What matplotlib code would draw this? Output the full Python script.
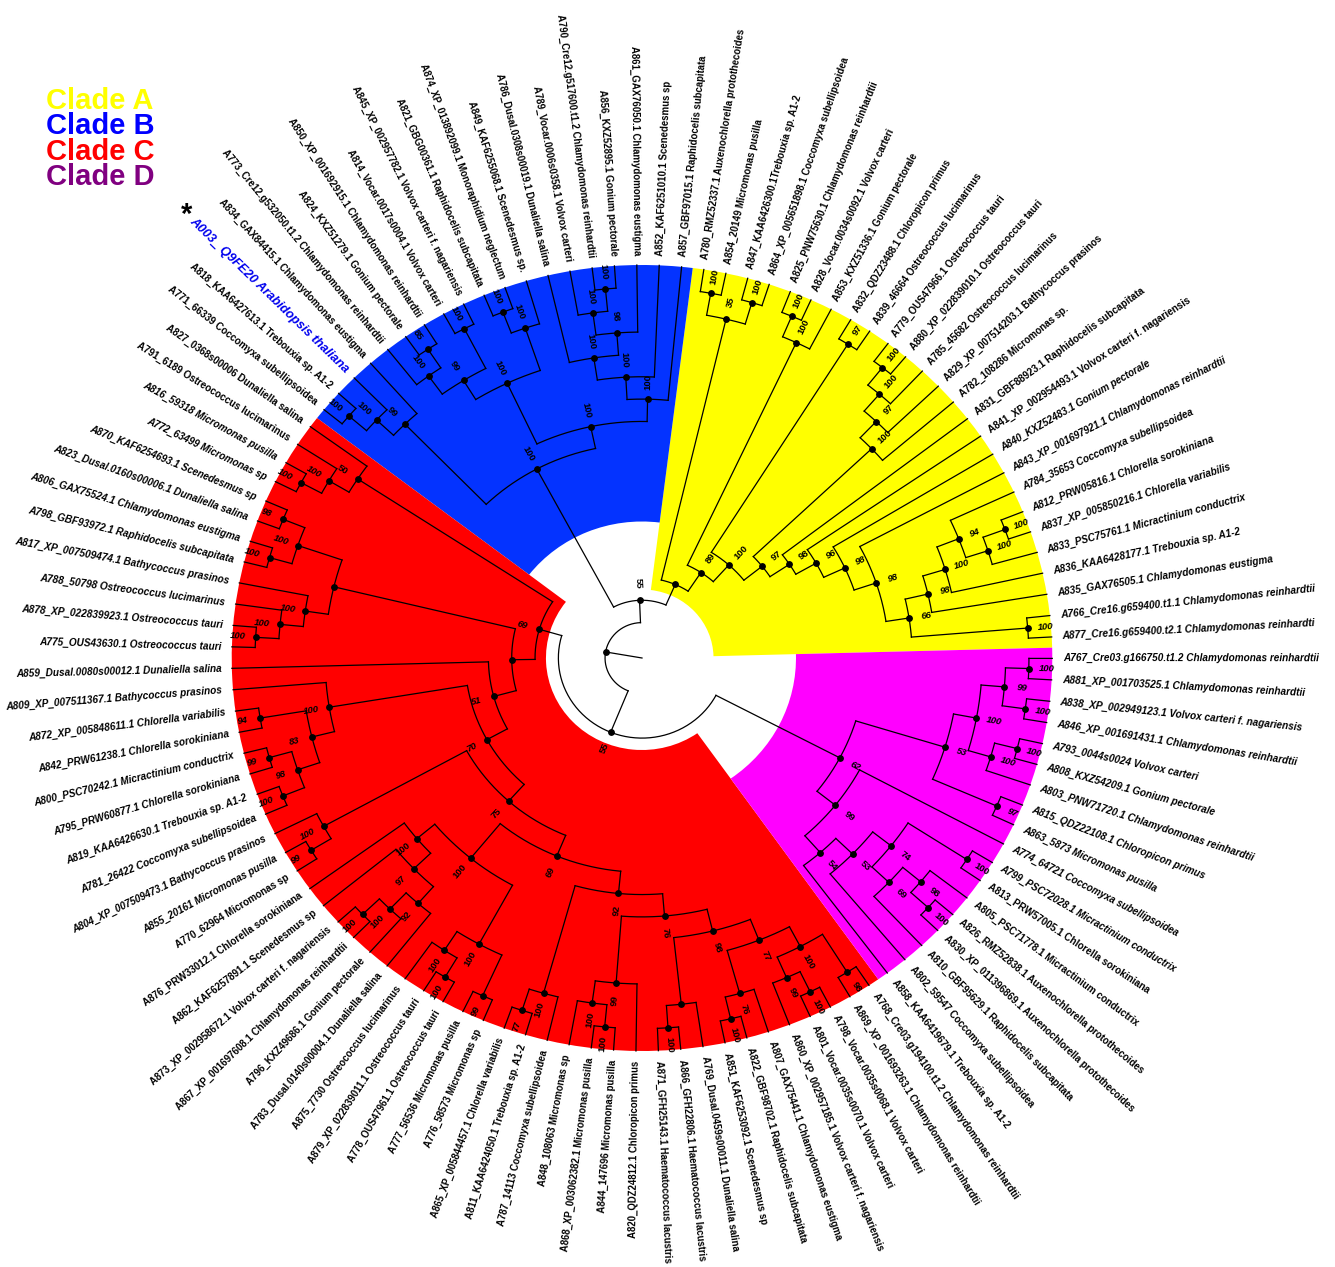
import numpy as np
import matplotlib
matplotlib.use("Agg")
import matplotlib.pyplot as plt

plt.rcParams['font.family'] = ['Liberation Sans', 'DejaVu Sans']

# ------------------------------------------------------------------ data
# leaf labels in drawing order (counter-clockwise, starting at Clade A)
leaf_labels_A = [
    "A877_Cre16.g659400.t2.1 Chlamydomonas reinhardti",
    "A766_Cre16.g659400.t1.1 Chlamydomonas reinhardtii",
    "A835_GAX76505.1 Chlamydomonas eustigma",
    "A836_KAA6428177.1 Trebouxia sp. A1-2",
    "A833_PSC75761.1 Micractinium conductrix",
    "A837_XP_005850216.1 Chlorella variabilis",
    "A812_PRW05816.1 Chlorella sorokiniana",
    "A784_35653 Coccomyxa subellipsoidea",
    "A843_XP_001697921.1 Chlamydomonas reinhardtii",
    "A840_KXZ52483.1 Gonium pectorale",
    "A841_XP_002954493.1 Volvox carteri f. nagariensis",
    "A831_GBF88923.1 Raphidocelis subcapitata",
    "A782_108286 Micromonas sp.",
    "A829_XP_007514203.1 Bathycoccus prasinos",
    "A785_45682 Ostreococcus lucimarinus",
    "A880_XP_022839010.1 Ostreococcus tauri",
    "A779_OUS47966.1 Ostreococcus tauri",
    "A839_46664 Ostreococcus lucimarinus",
    "A832_QDZ23488.1 Chloropicon primus",
    "A853_KXZ51336.1 Gonium pectorale",
    "A828_Vocar.0034s0092.1 Volvox carteri",
    "A825_PNW75630.1 Chlamydomonas reinhardtii",
    "A864_XP_005651898.1 Coccomyxa subellipsoidea",
    "A847_KAA6426300.1Trebouxia sp. A1-2",
    "A854_20149 Micromonas pusilla",
    "A780_RMZ52337.1 Auxenochlorella protothecoides",
]
leaf_labels_B = [
    "A857_GBF97015.1 Raphidocelis subcapitata",
    "A852_KAF6251010.1 Scenedesmus sp",
    "A861_GAX76050.1 Chlamydomonas eustigma",
    "A856_KXZ52895.1 Gonium pectorale",
    "A790_Cre12.g517600.t1.2 Chlamydomonas reinhardtii",
    "A789_Vocar.0006s0358.1 Volvox carteri",
    "A786_Dusal.0308s00019.1 Dunaliella salina",
    "A849_KAF6255068.1 Scenedesmus sp.",
    "A874_XP_013892099.1 Monoraphidium neglectum",
    "A821_GBG00361.1 Raphidocelis subcapitata",
    "A845_XP_002957782.1 Volvox carteri f. nagariensis",
    "A814_Vocar.0017s0004.1 Volvox carteri",
    "A850_XP_001692915.1 Chlamydomonas reinhardtii",
    "A824_KXZ51279.1 Gonium pectorale",
    "A773_Cre12.g532050.t1.2 Chlamydomonas reinhardtii",
    "A834_GAX84415.1 Chlamydomonas eustigma",
    "A003_ Q9FE20 Arabidopsis thaliana",
    "A818_KAA6427613.1 Trebouxia sp. A1-2",
    "A771_66339 Coccomyxa subellipsoidea",
]
leaf_labels_C = [
    "A827_0368s00006 Dunaliella salina",
    "A791_6189 Ostreococcus lucimarinus",
    "A816_59318 Micromonas pusilla",
    "A772_63499 Micromonas sp",
    "A870_KAF6254693.1 Scenedesmus sp",
    "A823_Dusal.0160s00006.1 Dunaliella salina",
    "A806_GAX75524.1 Chlamydomonas eustigma",
    "A798_GBF93972.1 Raphidocelis subcapitata",
    "A817_XP_007509474.1 Bathycoccus prasinos",
    "A788_50798 Ostreococcus lucimarinus",
    "A878_XP_022839923.1 Ostreococcus tauri",
    "A775_OUS43630.1 Ostreococcus tauri",
    "A859_Dusal.0080s00012.1 Dunaliella salina",
    "A809_XP_007511367.1 Bathycoccus prasinos",
    "A872_XP_005848611.1 Chlorella variabilis",
    "A842_PRW61238.1 Chlorella sorokiniana",
    "A800_PSC70242.1 Micractinium conductrix",
    "A795_PRW60877.1 Chlorella sorokiniana",
    "A819_KAA6426630.1 Trebouxia sp. A1-2",
    "A781_26422 Coccomyxa subellipsoidea",
    "A804_XP_007509473.1 Bathycoccus prasinos",
    "A855_20161 Micromonas pusilla",
    "A770_62964 Micromonas sp",
    "A876_PRW33012.1 Chlorella sorokiniana",
    "A862_KAF6257891.1 Scenedesmus sp",
    "A873_XP_002958672.1 Volvox carteri f. nagariensis",
    "A867_XP_001697608.1 Chlamydomonas reinhardtii",
    "A796_KXZ49686.1 Gonium pectorale",
    "A783_Dusal.0140s00004.1 Dunaliella salina",
    "A875_7730 Ostreococcus lucimarinus",
    "A879_XP_022839011.1 Ostreococcus tauri",
    "A778_OUS47961.1 Ostreococcus tauri",
    "A777_56536 Micromonas pusilla",
    "A776_58573 Micromonas sp",
    "A865_XP_005844457.1 Chlorella variabilis",
    "A811_KAA6424050.1 Trebouxia sp. A1-2",
    "A787_14113 Coccomyxa subellipsoidea",
    "A848_108063 Micromonas sp",
    "A868_XP_003062382.1 Micromonas pusilla",
    "A844_147696 Micromonas pusilla",
    "A820_QDZ24812.1 Chloropicon primus",
    "A871_GFH25143.1 Haematococcus lacustris",
    "A866_GFH22806.1 Haematococcus lacustris",
    "A769_Dusal.0459s00011.1 Dunaliella salina",
    "A851_KAF6253092.1 Scenedesmus sp",
    "A822_GBF98702.1 Raphidocelis subcapitata",
    "A807_GAX75441.1 Chlamydomonas eustigma",
    "A860_XP_002957185.1 Volvox carteri f. nagariensis",
    "A801_Vocar.0035s0070.1 Volvox carteri",
    "A798_Vocar.0035s0068.1 Volvox carteri",
    "A869_XP_001693263.1 Chlamydomonas reinhardtii",
    "A768_Cre03.g194100.t1.2 Chlamydomonas reinhardtii",
]
leaf_labels_D = [
    "A858_KAA6419679.1 Trebouxia sp. A1-2",
    "A802_59547 Coccomyxa subellipsoidea",
    "A810_GBF95629.1 Raphidocelis subcapitata",
    "A830_XP_011396869.1 Auxenochlorella protothecoides",
    "A826_RMZ52838.1 Auxenochlorella protothecoides",
    "A805_PSC71778.1 Micractinium conductrix",
    "A813_PRW57005.1 Chlorella sorokiniana",
    "A799_PSC72028.1 Micractinium conductrix",
    "A774_64721 Coccomyxa subellipsoidea",
    "A863_5873 Micromonas pusilla",
    "A815_QDZ22108.1 Chloropicon primus",
    "A803_PNW71720.1 Chlamydomonas reinhardtii",
    "A808_KXZ54209.1 Gonium pectorale",
    "A793_0044s0024 Volvox carteri",
    "A846_XP_001691431.1 Chlamydomonas reinhardtii",
    "A838_XP_002949123.1 Volvox carteri f. nagariensis",
    "A881_XP_001703525.1 Chlamydomonas reinhardtii",
    "A767_Cre03.g166750.t1.2 Chlamydomonas reinhardtii",
]

# topology (Newick pieces, numbers after ')' are bootstrap values)
A_core = "(A835,(A836,((A833,(A837,A812)100)100,A784)94)100)98"
A_ladder = "((((((A877,A766)100," + A_core + ")66,A843)98,A840)98,A841)96,A831)98"
A_sub = "(A782,(A829,(A785,(A880,A779)100)100)97)100"
clade_A_tree = ("((((" + A_ladder + "," + A_sub + ")97,(A839,A832)97)100,"
                "(A853,(A828,A825)100)100)89,((A864,A847)100,(A854,A780)100)35)")

B_part1 = "(A857,(A852,((A861,((A856,A790)100,A789)100)98,A786)100)100)100"
B_part2 = "((A849,(A874,A821)100)100,((A845,A814)100,((A850,A824)85,A773)100)99)100"
B_part3 = "(A834,(A003,(A818,A771)100)100)99"
clade_B_tree = "((" + B_part1 + "," + B_part2 + ")100," + B_part3 + ")100"

C_top = "(A827,(A791,(A816,A772)100)100)50"
C_N4 = "(((A870,A823)98,(A806,A798a)100)100,(A817,(A788,(A878,A775)100)100)100)"
C_P = "(A809,((A872,A842)94,((A800,A795)99,(A819,A781)100)98)83)100"
C_Q = "(A804,(A855,A770)99)100"
C_T = "(A876,(A862,(((A873,A867)100,A796)100,A783)92)97)100"
C_U = "((A875,(A879,A778)100)100,(A777,A776)99)100"
C_N77 = "(((A851,A822)100,A807)76,((A860,(A801,A798b)100)99,(A869,A768)98)100)77"
C_N98 = "(((A871,A866)100,A769)," + C_N77 + ")98"
C_N76 = "(((A848,(A868,A844)100)100,A820)99," + C_N98 + ")76"
C_N92 = "(((A865,A811)77,A787)100," + C_N76 + ")92"
C_R69 = "((" + C_T + "," + C_U + ")100," + C_N92 + ")69"
clade_C_tree = ("(" + C_top + ",(" + C_N4 + ",(A859,(" + C_P + ",(" + C_Q + ","
                + C_R69 + ")75)70)51))69")

D_69 = "(A810,((A830,A826)100,A805)98)69"
D_low = "((A858,(A802,(" + D_69 + ",(A813,A799)100)74)53)54,A774)99"
D_up = "((A863,A815)97,((A803,(A808,A793)100)100,((A846,A838)100,(A881,A767)100)99)100)53"
clade_D_tree = "(" + D_low + "," + D_up + ")62"

backbone_support = ["55", "55"]

clade_names = ["Clade A", "Clade B", "Clade C", "Clade D"]
legend_colors = ["#FFFF00", "#0000FF", "#FF0000", "#800080"]
wedge_colors = ["#FFFF00", "#0433FF", "#FF0000", "#FF00FF"]

# ------------------------------------------------------------------ style / layout
FIG_W, FIG_H = 1335, 1267
CX, CY = 642, 658          # centre in pixels (from top-left)
SX = 1.044                 # horizontal stretch of the circle
RLIM = 600
R_OUT = 393.0
STEP = 22.35
R_LAB = 403.0
FIRST_ANGLE = 3.07
LEAF_STEP = 360.0 / 115
wedge_inner = [68.5, 136.5, 92.0, 147.5]
LW = 0.9
MS = 3.9
LEAF_FS = 6.9
BOOT_FS = 6.8

# ------------------------------------------------------------------ parse
def parse(s):
    pos = 0
    def node():
        nonlocal pos
        if s[pos] == '(':
            pos += 1
            kids = [node()]
            while s[pos] == ',':
                pos += 1
                kids.append(node())
            assert s[pos] == ')'
            pos += 1
            m = pos
            while pos < len(s) and s[pos].isdigit():
                pos += 1
            return {'kids': kids, 'support': s[m:pos]}
        m = pos
        while pos < len(s) and s[pos] not in ',()':
            pos += 1
        return {'name': s[m:pos]}
    return node()

tree_str = ("((" + clade_A_tree + "," + clade_B_tree + ")" + backbone_support[0] +
            ",(" + clade_C_tree + "," + clade_D_tree + ")" + backbone_support[1] + ")")
root = parse(tree_str)

leaf_groups = [leaf_labels_A, leaf_labels_B, leaf_labels_C, leaf_labels_D]
leaf_labels = [lab for g in leaf_groups for lab in g]
prefix = [lab[:4] for lab in leaf_labels]
keys, cnt = [], {}
for p in prefix:
    if prefix.count(p) > 1:
        cnt[p] = cnt.get(p, 0) + 1
        keys.append(p + "ab"[cnt[p] - 1])
    else:
        keys.append(p)
label_of = dict(zip(keys, leaf_labels))

order = []
def walk(n):
    if 'name' in n:
        n['theta'] = FIRST_ANGLE + len(order) * LEAF_STEP
        order.append(n['name'])
        n['h'] = 0
        n['r'] = R_OUT
    else:
        for c in n['kids']:
            walk(c)
        n['theta'] = float(np.mean([c['theta'] for c in n['kids']]))
        n['h'] = 1 + max(c['h'] for c in n['kids'])
        n['r'] = R_OUT - n['h'] * STEP
walk(root)
assert order == keys, "leaf order mismatch"

# ------------------------------------------------------------------ figure
fig = plt.figure(figsize=(FIG_W / 100, FIG_H / 100), dpi=100)
ax = fig.add_axes([(CX - RLIM * SX) / FIG_W, (FIG_H - CY - RLIM) / FIG_H,
                   2 * RLIM * SX / FIG_W, 2 * RLIM / FIG_H], projection='polar')
ax.set_aspect('auto')

def rot_for(theta_deg):
    t = np.radians(theta_deg)
    phi = np.degrees(np.arctan2(np.sin(t), SX * np.cos(t)))
    if np.cos(t) >= 0:
        return phi, 'left'
    return (phi + 180 if phi < 0 else phi - 180), 'right'

def stretch(theta_deg):
    t = np.radians(theta_deg)
    return float(np.hypot(SX * np.cos(t), np.sin(t)))

# coloured clade wedges
start = 0
for i, g in enumerate(leaf_groups):
    nl = len(g)
    a0 = FIRST_ANGLE + (start - 0.5) * LEAF_STEP
    a1 = FIRST_ANGLE + (start + nl - 0.5) * LEAF_STEP
    ax.bar(np.radians((a0 + a1) / 2), R_OUT - wedge_inner[i], width=np.radians(a1 - a0),
           bottom=wedge_inner[i], color=wedge_colors[i], edgecolor='none', linewidth=0,
           align='center', zorder=0)
    start += nl

# tree
def draw(n):
    if 'kids' not in n:
        return
    ths = [c['theta'] for c in n['kids']]
    a = np.radians(np.linspace(min(ths), max(ths), 200))
    ax.plot(a, np.full_like(a, n['r']), color='black', lw=LW, zorder=2)
    for c in n['kids']:
        ax.plot([np.radians(c['theta'])] * 2, [n['r'], c['r']], color='black', lw=LW, zorder=2)
        draw(c)
    ax.plot(np.radians(n['theta']), n['r'], 'o', color='black', ms=MS, zorder=3)
    if n['support']:
        rot, _ = rot_for(n['theta'])
        style = 'italic' if abs(np.cos(np.radians(n['theta']))) > 0.85 else 'normal'
        ax.text(np.radians(n['theta']), n['r'] + 17, n['support'], rotation=rot,
                rotation_mode='anchor', ha='center', va='center', fontsize=BOOT_FS,
                fontweight='bold', style=style, zorder=4)

draw(root)
ax.plot([np.radians(root['theta'])] * 2, [0, root['r']], color='black', lw=LW, zorder=2)

# leaf labels
for k, key in enumerate(order):
    th = FIRST_ANGLE + k * LEAF_STEP
    rot, ha = rot_for(th)
    lab = label_of[key]
    italic = abs(np.cos(np.radians(th))) > 0.85
    if key == "A003":
        ax.text(np.radians(th), R_LAB, lab, rotation=rot, rotation_mode='anchor',
                ha=ha, va='center', fontsize=9.2, fontweight='bold', style='italic',
                color='#0000EE', zorder=4)
        ax.text(np.radians(th), 622, "*", rotation=0, ha='center', va='center',
                fontsize=21, fontweight='bold', color='black', zorder=4)
    else:
        ax.text(np.radians(th), R_LAB, lab, rotation=rot, rotation_mode='anchor',
                ha=ha, va='center', fontsize=LEAF_FS * stretch(th), fontweight='bold',
                style='italic' if italic else 'normal', color='black', zorder=4)

ax.set_ylim(0, RLIM)
ax.axis('off')

# legend
for i, (name, col) in enumerate(zip(clade_names, legend_colors)):
    fig.text(46 / FIG_W, 1 - (109 + i * 25.3) / FIG_H, name, color=col, fontsize=21,
             fontweight='bold', ha='left', va='baseline')

fig.savefig("out.png", dpi=100, facecolor='white')
